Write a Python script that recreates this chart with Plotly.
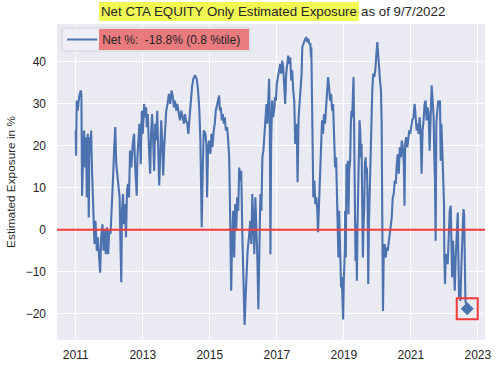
import pandas as pd
import plotly.graph_objects as go

# ---- data ----
# decimal years of each observation
years = [
    2011.00, 2011.01, 2011.03, 2011.06, 2011.10, 2011.15, 2011.17, 2011.19, 2011.22, 2011.25,
    2011.28, 2011.31, 2011.33, 2011.36, 2011.39, 2011.41, 2011.44, 2011.46, 2011.49, 2011.51,
    2011.53, 2011.56, 2011.59, 2011.63, 2011.66, 2011.70, 2011.73, 2011.76, 2011.80, 2011.83,
    2011.86, 2011.90, 2011.93, 2011.97, 2012.00, 2012.04, 2012.09, 2012.12, 2012.15, 2012.18,
    2012.21, 2012.24, 2012.28, 2012.31, 2012.34, 2012.36, 2012.38, 2012.41, 2012.44, 2012.47,
    2012.50, 2012.53, 2012.56, 2012.59, 2012.62, 2012.66, 2012.70, 2012.74,
    2012.77, 2012.80, 2012.82, 2012.84, 2012.87, 2012.90, 2012.94, 2012.97, 2013.00, 2013.04,
    2013.07, 2013.10, 2013.12, 2013.15, 2013.18, 2013.22, 2013.25, 2013.28, 2013.31, 2013.34,
    2013.37, 2013.40, 2013.43, 2013.46, 2013.49, 2013.52, 2013.55, 2013.58, 2013.61, 2013.64,
    2013.67, 2013.70, 2013.74, 2013.78, 2013.82, 2013.86, 2013.90, 2013.93, 2013.96, 2014.00,
    2014.03, 2014.07, 2014.11, 2014.15, 2014.19, 2014.23, 2014.26, 2014.29, 2014.33, 2014.36,
    2014.39, 2014.43, 2014.47, 2014.51, 2014.56, 2014.61, 2014.65, 2014.69, 2014.72, 2014.74,
    2014.76, 2014.79, 2014.82,
    2014.87, 2014.90, 2014.92, 2014.95, 2014.98, 2015.02, 2015.05, 2015.08, 2015.12, 2015.15,
    2015.18, 2015.22, 2015.25, 2015.28, 2015.30, 2015.33, 2015.36, 2015.39, 2015.42, 2015.45,
    2015.48, 2015.52, 2015.55, 2015.58, 2015.60, 2015.62, 2015.64, 2015.67, 2015.70, 2015.73,
    2015.76, 2015.79, 2015.82, 2015.85, 2015.88, 2015.91, 2015.94, 2015.97, 2016.00, 2016.02,
    2016.04, 2016.07, 2016.10, 2016.13, 2016.17, 2016.21, 2016.24, 2016.27, 2016.30, 2016.33,
    2016.36, 2016.39, 2016.42, 2016.45, 2016.48, 2016.51, 2016.54, 2016.57, 2016.60, 2016.63,
    2016.66, 2016.69, 2016.72, 2016.75, 2016.77, 2016.79, 2016.81, 2016.83, 2016.86, 2016.89,
    2016.93,
    2016.94, 2016.97, 2017.00, 2017.04, 2017.07, 2017.10, 2017.13, 2017.16, 2017.19, 2017.22,
    2017.25, 2017.28, 2017.31, 2017.34, 2017.37, 2017.40, 2017.43, 2017.46, 2017.49, 2017.52,
    2017.55, 2017.58, 2017.60, 2017.62, 2017.65, 2017.68, 2017.71, 2017.74, 2017.76, 2017.79,
    2017.82, 2017.85, 2017.88, 2017.91, 2017.94, 2017.97, 2018.00, 2018.02, 2018.03, 2018.05,
    2018.07, 2018.09, 2018.12, 2018.15, 2018.18, 2018.21, 2018.23, 2018.26, 2018.29, 2018.32,
    2018.35, 2018.38, 2018.41, 2018.44, 2018.47, 2018.50, 2018.53, 2018.56, 2018.59, 2018.62,
    2018.65, 2018.68, 2018.71, 2018.74, 2018.77, 2018.80, 2018.82, 2018.84, 2018.86, 2018.88,
    2018.90, 2018.92, 2018.94, 2018.96, 2018.98, 2019.00, 2019.03,
    2019.04, 2019.06, 2019.08, 2019.10, 2019.12, 2019.14, 2019.16, 2019.19, 2019.21, 2019.23,
    2019.25, 2019.27, 2019.29, 2019.31, 2019.33, 2019.35, 2019.37, 2019.39, 2019.41, 2019.43,
    2019.45, 2019.47, 2019.49, 2019.51, 2019.53, 2019.55, 2019.57, 2019.59, 2019.61, 2019.63,
    2019.65, 2019.67, 2019.69, 2019.71, 2019.73, 2019.75, 2019.77, 2019.79, 2019.82, 2019.85,
    2019.88, 2019.91, 2019.94, 2019.97, 2020.00, 2020.02, 2020.05, 2020.08, 2020.11, 2020.13,
    2020.15, 2020.17, 2020.19, 2020.22, 2020.25, 2020.28, 2020.31, 2020.34, 2020.37, 2020.40,
    2020.43, 2020.46, 2020.49, 2020.52, 2020.55, 2020.58, 2020.61, 2020.64, 2020.67, 2020.70,
    2020.73, 2020.76, 2020.79, 2020.81, 2020.83, 2020.86, 2020.89, 2020.92, 2020.95, 2020.98,
    2021.01, 2021.04, 2021.08, 2021.11,
    2021.13, 2021.15, 2021.17, 2021.20, 2021.23, 2021.26, 2021.29, 2021.32, 2021.35, 2021.38,
    2021.41, 2021.44, 2021.47, 2021.50, 2021.53, 2021.56, 2021.59, 2021.62, 2021.65, 2021.68,
    2021.70, 2021.72, 2021.74, 2021.76, 2021.79, 2021.82, 2021.85, 2021.87, 2021.89, 2021.91,
    2021.94, 2021.97, 2021.99, 2022.00, 2022.02, 2022.04, 2022.07, 2022.10, 2022.13, 2022.16,
    2022.19, 2022.21, 2022.23, 2022.26, 2022.29, 2022.31, 2022.34, 2022.37, 2022.40, 2022.42,
    2022.44, 2022.46, 2022.48, 2022.51, 2022.54, 2022.57, 2022.59, 2022.61, 2022.63, 2022.683,
]

# net estimated exposure, %
exposure = [
    23.6, 17.6, 30.7, 28.3, 31.5, 33.1, 31.9, 8.1, 17.2, 23.6,
    14.8, 22.0, 7.7, 22.8, 2.9, 22.0, 18.0, 23.6, 13.3, 7.7,
    1.3, -3.4, 2.1, -5.0, -1.8, -5.8, -10.2, -1.8, 1.3, -5.0,
    -0.2, -5.8, 0.6, -5.8, -0.2, -1.0, 6.1, 13.3, 19.6, 24.4,
    15.6, 13.3, 9.3, 7.7, -5.0, -12.5, 4.5, 8.5, 1.3, 6.1,
    -1.8, 9.3, 10.9, 7.7, 18.8, 14.8, 20.4, 22.8,
    15.6, 8.5, 8.1, 17.2, 22.0, 25.2, 15.6, 28.3, 22.8, 29.9,
    26.7, 29.1, 24.4, 27.5, 20.4, 13.3, 23.6, 27.5, 21.2, 14.0,
    25.2, 21.2, 28.3, 18.8, 10.5, 17.2, 26.0, 21.2, 12.9, 19.6,
    23.6, 28.3, 29.9, 32.3, 29.9, 33.1, 31.5, 29.1, 30.7, 28.3,
    29.9, 27.5, 26.0, 28.3, 26.7, 25.2, 27.5, 26.0, 25.2, 22.8,
    26.0, 30.7, 33.9, 35.9, 36.7, 35.9, 33.1, 28.3, 21.2, 10.9,
    0.6, 14.0, 23.6,
    22.8, 20.4, 7.7, 18.8, 21.2, 18.0, 22.8, 19.6, 23.6, 25.2,
    28.3, 29.9, 31.5, 31.9, 28.3, 29.1, 26.0, 27.5, 25.2, 26.7,
    23.6, 24.4, 21.2, 17.2, 8.5, -0.2, -14.5, -1.8, 4.5, -6.6,
    6.1, -0.2, 7.7, 4.5, 14.8, 11.7, 14.0, -0.2, -11.3, -16.9,
    -22.6, -16.1, -8.2, -5.0, -1.8, 2.1, -3.4, 8.5, 1.3, -5.8,
    7.7, 1.3, -6.6, -18.9, 1.3, 8.5, 4.5, 17.2, 18.8, 22.8,
    27.5, 29.9, 25.2, 30.7, 35.9, 26.7, -5.8, 20.4, 30.7, 26.7,
    29.1,
    31.5, 30.7, 34.7, 36.3, 37.9, 39.4, 37.1, 40.2, 38.7, 35.5,
    29.9, 37.1, 40.2, 41.4, 39.4, 41.0, 35.5, 37.9, 33.1, 30.7,
    20.4, 25.2, 21.2, 11.3, 26.7, 30.7, 33.1, 37.1, 43.4, 44.2,
    45.0, 45.4, 45.6, 44.6, 45.4, 44.2, 44.2, 41.0, 43.4, 33.1,
    22.8, 7.7, 11.7, 6.1, 7.7, 4.5, -0.6, 6.9, 10.9, 18.8,
    26.0, 22.8, 27.5, 25.2, 29.1, 31.5, 36.3, 33.9, 30.7, 32.3,
    28.3, 29.9, 20.4, 14.8, 17.2, 5.7, 1.3, -6.6, 4.5, -1.8,
    -6.6, -13.7, -11.3, -19.3, -21.3, -12.1, -5.0,
    4.5, -6.6, 15.6, 11.7, 16.4, 3.7, 14.0, 16.4, 25.2, 28.3,
    26.7, 31.5, 36.3, 22.8, 9.3, -7.4, 1.3, -12.1, 1.3, 13.3,
    18.8, 26.0, 23.6, 17.2, 20.4, 10.9, -6.6, 1.3, 5.3, 15.6,
    17.2, 13.3, 14.8, 7.7, -12.9, 1.3, 9.3, 15.6, 26.7, 33.1,
    37.1, 36.3, 37.9, 42.6, 44.6, 42.6, 37.9, 35.5, 33.1, 25.2,
    1.3, -19.3, -6.6, -3.4, -6.6, -4.2, -5.0, -2.6, -1.8, 1.3,
    2.9, 7.7, 8.5, 11.7, 10.9, 15.6, 18.0, 13.3, 19.6, 17.2,
    21.2, 19.6, 15.6, 5.7, 20.4, 22.0, 19.6, 21.2, 23.6, 22.8,
    24.4, 26.0, 26.7, 29.9,
    28.3, 26.0, 23.6, 25.2, 22.8, 26.7, 23.6, 13.3, 23.6, 26.0,
    29.9, 30.7, 26.0, 29.1, 27.5, 18.8, 28.3, 34.3, 30.7, 26.7,
    17.2, 11.7, -2.6, 25.2, 28.3, 30.7, 29.9, 30.7, 16.4, 25.2,
    18.8, 12.5, 6.1, -6.6, -12.9, -6.6, -5.8, -8.2, -2.6, 4.5,
    5.7, -6.6, -11.3, -2.6, -9.0, -14.5, -6.6, 1.3, 4.1, -6.6,
    -16.1, -14.5, -16.9, -8.2, 1.3, 4.9, 3.7, -6.6, -16.9, -18.8,
]

percentile = 0.8
as_of = "9/7/2022"
x_ticks = ["2011", "2013", "2015", "2017", "2019", "2021", "2023"]


def to_date(y):
    yr = int(y)
    start = pd.Timestamp(year=yr, month=1, day=1)
    end = pd.Timestamp(year=yr + 1, month=1, day=1)
    return start + (end - start) * (y - yr)


dates = [to_date(y) for y in years]
last_val = exposure[-1]
legend_label = f"Net %: \u00a0{last_val:.1f}% ({percentile} %tile)"

BLUE = "#4C72B0"
RED = "#F23B3B"
TXT = "#262626"
FONT = "Liberation Sans, Arial, sans-serif"

fig = go.Figure()
fig.add_trace(go.Scatter(
    x=dates, y=exposure, mode="lines", name=legend_label,
    line=dict(color=BLUE, width=2.1), showlegend=True,
))
fig.add_trace(go.Scatter(
    x=[dates[-1]], y=[last_val], mode="markers", showlegend=False,
    marker=dict(symbol="diamond", size=10, color=BLUE),
))
fig.add_trace(go.Scatter(
    x=[dates[-1]], y=[last_val], mode="markers", showlegend=False,
    marker=dict(symbol="square-open", size=21, color=RED, line=dict(width=2, color=RED)),
))
fig.add_hline(y=0, line=dict(color=RED, width=2.2), layer="above")

# legend frame and red highlight behind the legend text
fig.add_shape(type="rect", xref="paper", yref="paper", x0=0.0117, x1=0.4509, y0=0.9146, y1=0.9873,
              fillcolor="#EEEEF4", line=dict(color="#D2D2DA", width=1), layer="above")
fig.add_shape(type="rect", xref="paper", yref="paper", x0=0.0981, x1=0.4486, y0=0.9177, y1=0.9842,
              fillcolor="#E97B7E", line=dict(width=0), layer="above")

fig.add_annotation(text="Net CTA EQUITY Only Estimated Exposure", xref="paper", yref="paper",
                   x=0.7056, xanchor="right", y=1.038, yanchor="middle", showarrow=False,
                   bgcolor="#F1F753", borderpad=2, borderwidth=0,
                   font=dict(family=FONT, size=13.3, color=TXT))
fig.add_annotation(text=f"as of {as_of}", xref="paper", yref="paper",
                   x=0.7103, xanchor="left", y=1.038, yanchor="middle", showarrow=False,
                   borderpad=0, borderwidth=0,
                   font=dict(family=FONT, size=13.3, color=TXT))

fig.update_layout(
    width=500, height=367,
    margin=dict(l=57, r=15, t=24, b=27, autoexpand=False),
    paper_bgcolor="white", plot_bgcolor="#EAEAF2",
    font=dict(family=FONT, size=12, color=TXT),
    hovermode=False,
    legend=dict(x=0.012, y=0.951, xanchor="left", yanchor="middle",
                bgcolor="rgba(0,0,0,0)", borderwidth=0,
                font=dict(family=FONT, size=12, color=TXT)),
    xaxis=dict(type="date", range=["2010-06-11", "2023-03-20"], automargin=False,
               tickvals=[f"{t}-01-01" for t in x_ticks], ticktext=x_ticks,
               showgrid=True, gridcolor="white", gridwidth=1.2, zeroline=False,
               showline=False, ticks="", ticklabelstandoff=6,
               tickfont=dict(family=FONT, size=12, color=TXT)),
    yaxis=dict(range=[-26.2, 48.9], tick0=0, dtick=10, automargin=False,
               showgrid=True, gridcolor="white", gridwidth=1.2, zeroline=False,
               showline=False, ticks="", ticklabelstandoff=10,
               tickfont=dict(family=FONT, size=12, color=TXT),
               title=dict(text="Estimated Exposure in %", standoff=7,
                          font=dict(family=FONT, size=11.8, color=TXT))),
)

fig.write_html(
    "out.html",
    config={"displayModeBar": False},
    post_script="document.body.style.margin='0px';document.body.style.overflow='hidden';",
)
